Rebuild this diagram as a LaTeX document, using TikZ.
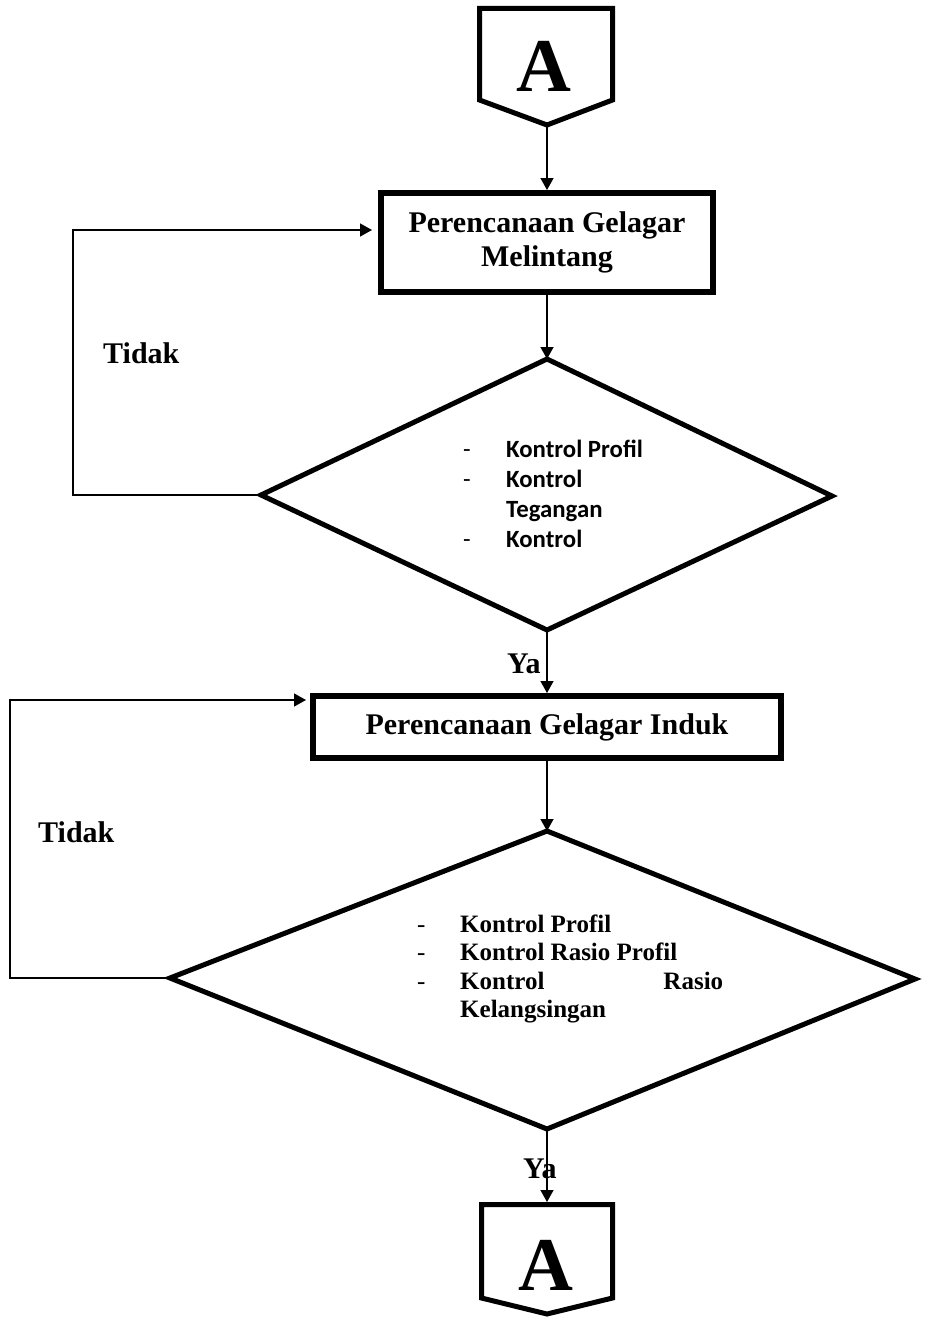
\documentclass[tikz,border=0pt]{standalone}
\usepackage{fontspec}
\usepackage{array}
\setmainfont{Liberation Serif}
\newfontfamily\calfont{Carlito}
\usetikzlibrary{arrows.meta}
\begin{document}
\begin{tikzpicture}[x=1pt,y=-1pt,
  conn/.style={line width=1.4pt,-{Triangle[length=12pt,width=13pt]}},
  thinline/.style={line width=1.4pt},
  thickbox/.style={draw,line width=6pt,rectangle,inner sep=0pt,
     font=\fontsize{30}{34}\selectfont\bfseries,align=center},
  outline/.style={line width=5pt},
  lbl/.style={font=\fontsize{30}{33}\selectfont\bfseries,inner sep=0pt},
  bigA/.style={font=\fontsize{76}{76}\selectfont\bfseries,inner sep=0pt,anchor=base},
]
\useasboundingbox (0,0) rectangle (924,1322);

% top connector shape
\draw[outline] (479.5,8.5) -- (612.5,8.5) -- (612.5,100) -- (547,125) -- (479.5,100) -- cycle;
\node[bigA] (A1) at (544,92) {A};
\coordinate (a1tip) at (547,126);

% box 1
\node[thickbox,minimum width=332pt,minimum height=99pt] (box1) at (547,242.5)
  {Perencanaan Gelagar\\Melintang};

% diamond 1
\coordinate (d1t) at (547,359);
\coordinate (d1r) at (832,496);
\coordinate (d1b) at (547,630);
\coordinate (d1l) at (261,495);
\draw[outline] (d1t) -- (d1r) -- (d1b) -- (d1l) -- cycle;
\node[anchor=base west,inner sep=0pt,font=\calfont\fontsize{24.8}{30}\selectfont] (d1txt) at (463,457)
  {\begin{tabular}[t]{@{}p{43pt}@{}>{\raggedright\arraybackslash\bfseries}p{160pt}@{}}
   -&Kontrol Profil\\
   -&Kontrol Tegangan\\
   -&Kontrol
   \end{tabular}};

% box 2
\node[thickbox,minimum width=468pt,minimum height=62pt] (box2) at (547,727)
  {Perencanaan Gelagar Induk};

% diamond 2
\coordinate (d2t) at (547,831);
\coordinate (d2r) at (915,979);
\coordinate (d2b) at (547,1129);
\coordinate (d2l) at (170,978);
\draw[outline] (d2t) -- (d2r) -- (d2b) -- (d2l) -- cycle;
\node[anchor=base west,inner sep=0pt,font=\fontsize{25}{28.5}\selectfont] (d2txt) at (417,932)
  {\begin{tabular}[t]{@{}p{43pt}@{}>{\bfseries\hyphenpenalty=10000\tolerance=10000}p{263pt}@{}}
   -&Kontrol Profil\\
   -&Kontrol Rasio Profil\\
   -&Kontrol Rasio Kelangsingan
   \end{tabular}};

% bottom connector shape
\draw[outline] (481.5,1204.5) -- (612.5,1204.5) -- (612.5,1298) -- (547,1314) -- (481.5,1298) -- cycle;
\node[bigA] (A2) at (546,1290) {A};
\coordinate (a2top) at (547,1202);

% connectors
\draw[conn] (a1tip) -- (box1.north);
\draw[conn] (box1.south) -- (d1t);
\draw[conn] (d1b) -- (box2.north);
\draw[conn] (box2.south) -- (d2t);
\draw[conn] (d2b) -- (a2top);

\coordinate (l1a) at (73,495);
\coordinate (l1b) at (73,230);
\coordinate (l1end) at (372,230);
\draw[conn] (d1l) -- (l1a) -- (l1b) -- (l1end);

\coordinate (l2a) at (10,978);
\coordinate (l2b) at (10,700);
\coordinate (l2end) at (306,700);
\draw[conn] (d2l) -- (l2a) -- (l2b) -- (l2end);

% labels
\node[lbl,anchor=base west] (t1) at (103,363) {Tidak};
\node[lbl,anchor=base west] (t2) at (38,842) {Tidak};
\node[lbl,anchor=base west] (y1) at (507,673) {Ya};
\node[lbl,anchor=base west] (y2) at (523,1178) {Ya};
\end{tikzpicture}
\end{document}
